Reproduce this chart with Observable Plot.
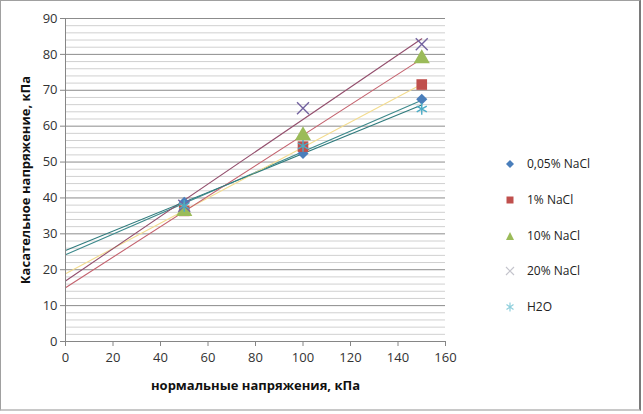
<!DOCTYPE html>
<html>
<head>
<meta charset="utf-8">
<script src="https://cdn.jsdelivr.net/npm/d3@7"></script>
<script src="https://cdn.jsdelivr.net/npm/@observablehq/plot@0.6"></script>
<style>
  html, body { margin: 0; padding: 0; background: #fff; }
  #wrap { position: relative; width: 643px; height: 414px; overflow: hidden; font-family: "Open Sans", sans-serif; }
  #border { position: absolute; left: 0; top: 0; width: 641px; height: 411px; box-sizing: border-box;
            border-top: 1px solid #a0a0a0; border-left: 1px solid #a0a0a0;
            border-right: 2px solid #7a7a7a; border-bottom: 2px solid #c8c8c8; pointer-events: none; }
  #legend { position: absolute; left: 503px; top: 155px; font-size: 12px; color: #222; }
  .row { height: 35.8px; display: flex; align-items: flex-start; }
  .row svg { margin-right: 10px; margin-top: 2px; }
</style>
</head>
<body>
<div id="wrap"><div id="chart"></div><div id="legend"></div><div id="border"></div></div>
<script>
const xs = [50, 100, 150];
const seriesNames = ["0,05% NaCl", "1% NaCl", "10% NaCl", "20% NaCl", "H2O"];
const s005 = [38.8, 52.4, 67.5];
const s1   = [36.4, 54.3, 71.6];
const s10  = [36.3, 57.4, 78.8];
const s20  = [37.8, 65.0, 82.8];
const sH2O = [37.8, 54.5, 64.8];
const seriesValues = [s005, s1, s10, s20, sH2O];
const symbols = ["diamond2", "square", "triangle", "times", "asterisk"];
const markerColors = ["#4a7ebb", "#c0504d", "#9bbb59", "#7464a0", "#4bacc6"];
const legendColors = ["#4a7ebb", "#c0504d", "#9bbb59", "#c4c4cc", "#8fcfdc"];
const filled = [true, true, true, false, false];
const markerR = [5, 6, 6, 5.5, 5.5];
const trendColors = ["#3d8a8c", "#f3dc8e", "#c4636f", "#94506e", "#2f7b7d"];
const xTicks = [0, 20, 40, 60, 80, 100, 120, 140, 160];
const yTicks = [0, 10, 20, 30, 40, 50, 60, 70, 80, 90];
const minorTicks = d3.range(0, 91, 2).filter(v => v % 10 !== 0);

const points = [];
seriesValues.forEach((vals, i) => vals.forEach((v, j) => points.push({x: xs[j], y: v, s: i})));

// linear trend lines (Excel-style), extended back to x = 0
const trends = [];
seriesValues.forEach((vals, i) => {
  const mx = d3.mean(xs), my = d3.mean(vals);
  const slope = d3.sum(xs, (x, j) => (x - mx) * (vals[j] - my)) / d3.sum(xs, x => (x - mx) ** 2);
  const b = my - slope * mx;
  [0, d3.max(xs)].forEach(x => trends.push({x, y: b + slope * x, s: i}));
});

const marks = [
  Plot.ruleY(minorTicks, {stroke: "#d0d0d0", strokeWidth: 1}),
  Plot.ruleY(yTicks.filter(v => v > 0), {stroke: "#8c8c8c", strokeWidth: 1}),
];
seriesValues.forEach((_, i) => {
  marks.push(Plot.line(trends.filter(d => d.s === i), {x: "x", y: "y", stroke: trendColors[i], strokeWidth: 1.1}));
});
seriesValues.forEach((_, i) => {
  const data = points.filter(d => d.s === i);
  marks.push(Plot.dot(data, filled[i]
    ? {x: "x", y: "y", symbol: () => symbols[i], fill: markerColors[i], r: markerR[i]}
    : {x: "x", y: "y", symbol: () => symbols[i], stroke: markerColors[i], strokeWidth: 1.4, r: markerR[i]}));
});
marks.push(
  Plot.ruleY([0], {stroke: "#868686"}),
  Plot.ruleX([0], {stroke: "#868686"}),
  Plot.axisX({ticks: xTicks, tickSize: 5, stroke: "#868686", tickPadding: 6, fontSize: 13, color: "#333", label: null}),
  Plot.axisY({ticks: yTicks, tickSize: 5, stroke: "#868686", tickPadding: 3, fontSize: 13, color: "#333", label: null}),
  Plot.axisX({ticks: [], tickSize: 0, label: "нормальные напряжения, кПа", labelAnchor: "center", labelArrow: "none", labelOffset: 48, fontSize: 13, fontWeight: "bold", color: "#111"}),
  Plot.axisY({ticks: [], tickSize: 0, label: "Касательное напряжение, кПа", labelAnchor: "center", labelArrow: "none", labelOffset: 45, fontSize: 13, fontWeight: "bold", color: "#111"})
);

const chart = Plot.plot({
  width: 643, height: 414,
  marginLeft: 65, marginRight: 198, marginTop: 18, marginBottom: 73,
  style: {fontFamily: "Open Sans, sans-serif", background: "#fff"},
  x: {domain: [0, 160]},
  y: {domain: [0, 90]},
  marks
});
document.getElementById("chart").appendChild(chart);

// legend glyphs (legend key shapes, 14x14 box centred at 7,7)
const glyphs = {
  diamond2: "M7,3 L11,7 L7,11 L3,7 Z",
  square: "M3.5,3.5 H10.5 V10.5 H3.5 Z",
  triangle: "M7,3 L11,11 L3,11 Z",
  times: "M3,3 L11,11 M11,3 L3,11",
  asterisk: "M7,2.5 V11.5 M3.5,4.5 L10.5,9.5 M10.5,4.5 L3.5,9.5"
};
const legend = document.getElementById("legend");
seriesNames.forEach((name, i) => {
  const row = document.createElement("div");
  row.className = "row";
  const paint = filled[i] ? `fill="${legendColors[i]}"` : `fill="none" stroke="${legendColors[i]}" stroke-width="1.2"`;
  row.innerHTML = `<svg width="14" height="14"><path d="${glyphs[symbols[i]]}" ${paint}/></svg><span>${name}</span>`;
  legend.appendChild(row);
});
</script>
</body>
</html>
